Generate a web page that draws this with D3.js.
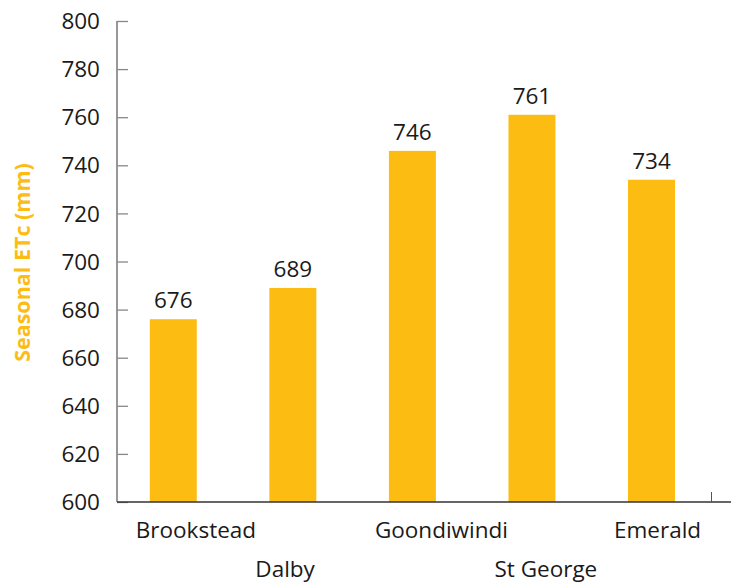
<!DOCTYPE html>
<html><head><meta charset="utf-8">
<script src="https://cdn.jsdelivr.net/npm/d3@7"></script>
<style>body{margin:0;background:#fff}svg{display:block}</style>
</head><body>
<script>
const categories = ["Brookstead","Dalby","Goondiwindi","St George","Emerald"];
const values = [676, 689, 746, 761, 734];
const yTicks = [600,620,640,660,680,700,720,740,760,780,800];
const yTitle = "Seasonal ETc (mm)";

const W = 731, H = 584;
const FONT = "'Open Sans', 'Noto Sans', sans-serif";
const svg = d3.select("body").append("svg").attr("width", W).attr("height", H);

const y = d3.scaleLinear().domain([600, 800]).range([502, 21]);
const x = d3.scaleBand().domain(categories).range([113.5, 711.3]).paddingInner(0.607).paddingOuter(0.3035);

// bars
svg.selectAll("rect.bar").data(values).join("rect")
  .attr("x", (d,i) => x(categories[i]))
  .attr("width", x.bandwidth())
  .attr("y", d => y(d))
  .attr("height", d => y(600) - y(d))
  .attr("fill", "#FCBC12");

// value labels
svg.selectAll("text.val").data(values).join("text")
  .attr("x", (d,i) => x(categories[i]) + x.bandwidth()/2)
  .attr("y", d => y(d) - 11)
  .attr("text-anchor", "middle")
  .attr("font-family", FONT).attr("font-size", 22.5).attr("fill", "#1a1a1a")
  .text(d => d);

// y axis
const yAxis = d3.axisRight(y).tickValues(yTicks).tickSize(11).tickFormat("");
const gy = svg.append("g").attr("transform", "translate(117,0)").call(yAxis);
gy.select(".domain").attr("stroke", "#333").attr("d", `M0,${y(800)}V${y(600)}`);
gy.selectAll(".tick line").attr("stroke", "#888").attr("stroke-width", 1.3);
svg.selectAll("text.ytl").data(yTicks).join("text")
  .attr("x", 100).attr("y", d => y(d)).attr("dy", "0.36em")
  .attr("text-anchor", "end")
  .attr("font-family", FONT).attr("font-size", 22.5).attr("fill", "#1a1a1a")
  .text(d => d);

// x axis
svg.append("line").attr("x1", 117).attr("x2", 731).attr("y1", 502).attr("y2", 502)
  .attr("stroke", "#333").attr("stroke-width", 1.3);
svg.append("line").attr("x1", 711.5).attr("x2", 711.5).attr("y1", 502).attr("y2", 492)
  .attr("stroke", "#555").attr("stroke-width", 1);

svg.selectAll("text.xl").data(categories).join("text")
  .attr("x", d => x(d) - 14)
  .attr("y", (d,i) => i % 2 === 0 ? 538 : 577)
  .attr("text-anchor", "start")
  .attr("font-family", FONT).attr("font-size", 22.5).attr("fill", "#1a1a1a")
  .text(d => d);

// y title
svg.append("text")
  .attr("transform", "translate(29.5,262.5) rotate(-90)")
  .attr("text-anchor", "middle")
  .attr("font-family", FONT).attr("font-weight", "bold").attr("font-size", 21.5)
  .attr("fill", "#FCBC12")
  .text(yTitle);
</script>
</body></html>
